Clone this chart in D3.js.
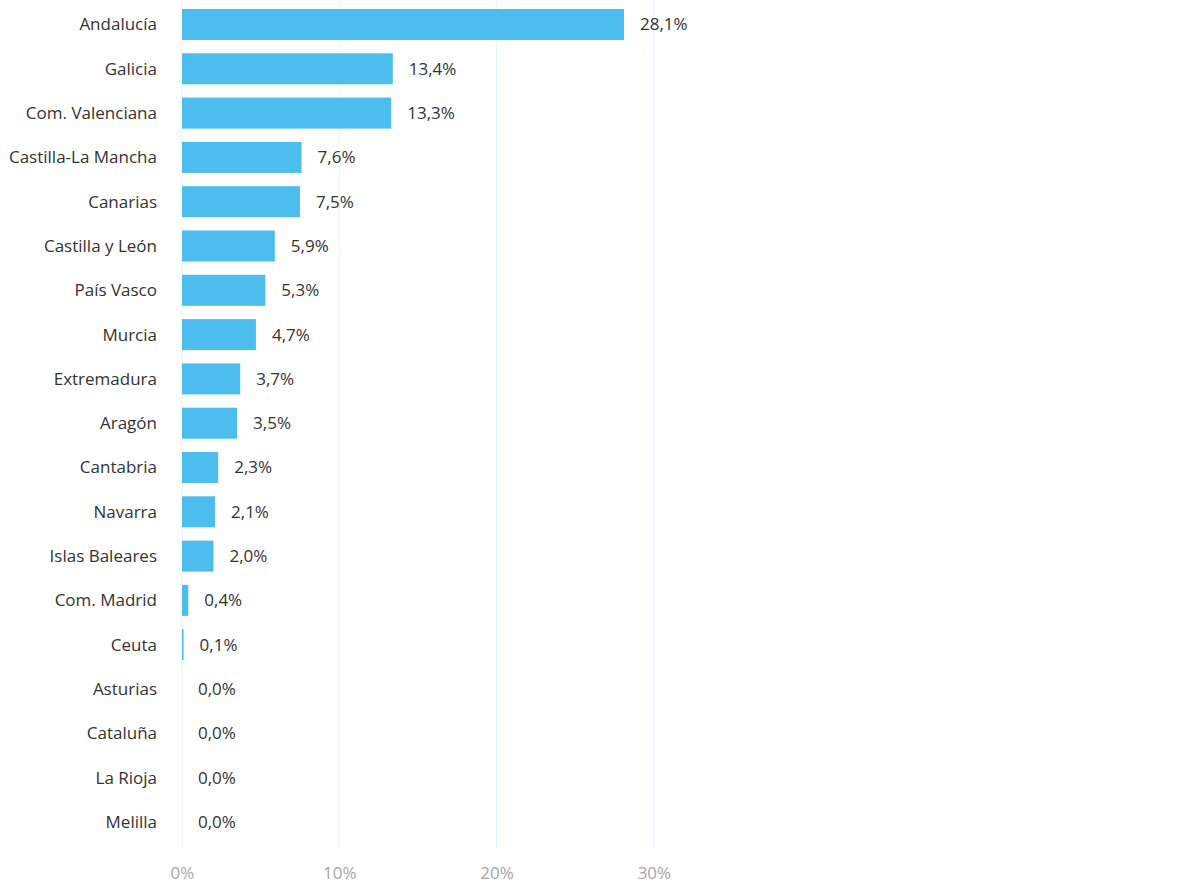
<!DOCTYPE html>
<html>
<head>
<meta charset="utf-8">
<script src="https://cdn.jsdelivr.net/npm/d3@7"></script>
<style>
  body { margin: 0; background: #fff; }
  svg text { font-family: "Open Sans", sans-serif; }
</style>
</head>
<body>
<div id="chart"></div>
<script>
const regions = ["Andalucía", "Galicia", "Com. Valenciana", "Castilla-La Mancha", "Canarias",
  "Castilla y León", "País Vasco", "Murcia", "Extremadura", "Aragón", "Cantabria", "Navarra",
  "Islas Baleares", "Com. Madrid", "Ceuta", "Asturias", "Cataluña", "La Rioja", "Melilla"]
const shares = [28.1, 13.4, 13.3, 7.6, 7.5, 5.9, 5.3, 4.7, 3.7, 3.5, 2.3, 2.1, 2.0, 0.4, 0.1, 0.0, 0.0, 0.0, 0.0]
const tickValues = [0, 10, 20, 30]

const width = 1180
const height = 890
const plotLeft = 182
const plotTop = -4.3
const plotBottom = 850.7

const svg = d3.select("#chart").append("svg")
  .attr("width", width)
  .attr("height", height)

const xScale = d3.scaleLinear().domain([0, 10]).range([plotLeft, 339.3])
const yScale = d3.scaleBand().domain(regions).range([plotTop, plotBottom]).padding(0.3)

// gridlines
svg.append("g")
  .selectAll("line")
  .data(tickValues)
  .enter()
  .append("line")
  .attr("x1", d => xScale(d))
  .attr("x2", d => xScale(d))
  .attr("y1", 0)
  .attr("y2", 848)
  .attr("stroke", "#e3f3fb")
  .attr("stroke-width", 1)

// bars
svg.append("g")
  .selectAll("rect")
  .data(regions)
  .enter()
  .append("rect")
  .attr("x", xScale(0))
  .attr("y", d => yScale(d))
  .attr("width", (d, i) => xScale(shares[i]) - xScale(0))
  .attr("height", yScale.bandwidth())
  .attr("fill", "#4dbdee")

// category labels
svg.append("g")
  .selectAll("text")
  .data(regions)
  .enter()
  .append("text")
  .attr("x", 157)
  .attr("y", d => yScale(d) + yScale.bandwidth() / 2)
  .attr("dy", "0.35em")
  .attr("text-anchor", "end")
  .attr("font-size", "17px")
  .attr("fill", "#333")
  .text(d => d)

// value labels
svg.append("g")
  .selectAll("text")
  .data(regions)
  .enter()
  .append("text")
  .attr("x", (d, i) => xScale(shares[i]) + 16)
  .attr("y", d => yScale(d) + yScale.bandwidth() / 2)
  .attr("dy", "0.35em")
  .attr("font-size", "17px")
  .attr("fill", "#333")
  .text((d, i) => shares[i].toFixed(1).replace(".", ",") + "%")

// x axis
const xAxis = d3.axisBottom(xScale)
  .tickValues(tickValues)
  .tickSize(0)
  .tickPadding(0)
  .tickFormat(d => d + "%")
const axis = svg.append("g").attr("transform", "translate(0, 867)").call(xAxis)
axis.select(".domain").remove()
axis.selectAll("text")
  .attr("font-size", "17px")
  .attr("fill", "#a6a6a6")
  .attr("font-family", "Open Sans, sans-serif")
</script>
</body>
</html>
